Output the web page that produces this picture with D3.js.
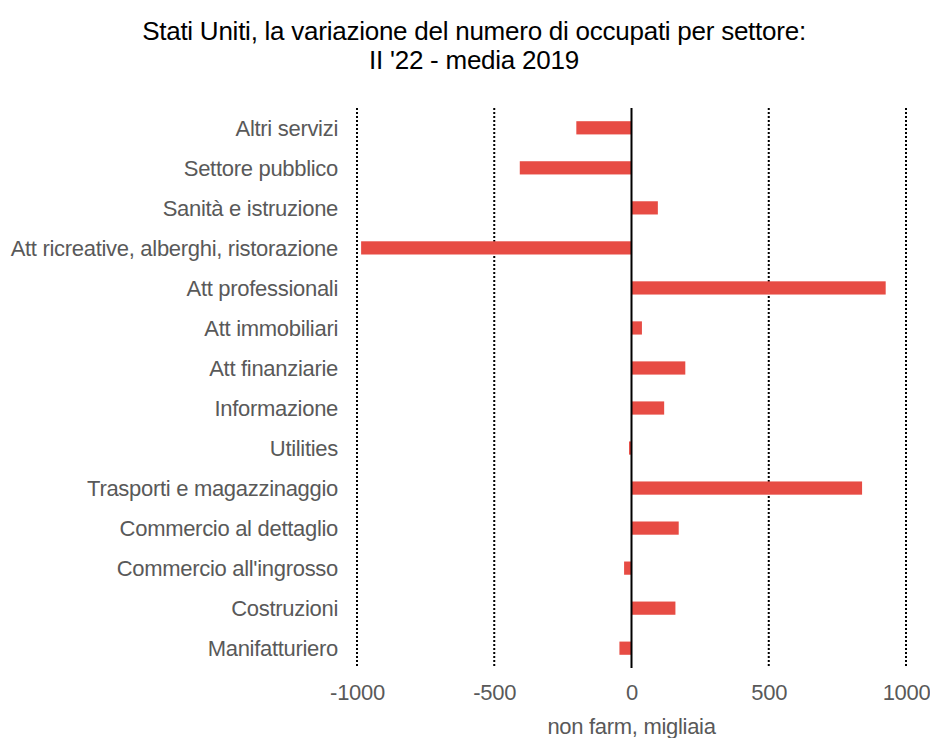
<!DOCTYPE html>
<html>
<head>
<meta charset="utf-8">
<script src="https://cdn.jsdelivr.net/npm/d3@7"></script>
<style>
  body { margin: 0; background: #fff; }
  text { font-family: "Liberation Sans", Arial, sans-serif; }
</style>
</head>
<body>
<svg width="930" height="738"></svg>
<script>
// settori, dall'alto verso il basso
const sectors = [
  "Altri servizi",
  "Settore pubblico",
  "Sanità e istruzione",
  "Att ricreative, alberghi, ristorazione",
  "Att professionali",
  "Att immobiliari",
  "Att finanziarie",
  "Informazione",
  "Utilities",
  "Trasporti e magazzinaggio",
  "Commercio al dettaglio",
  "Commercio all'ingrosso",
  "Costruzioni",
  "Manifatturiero"
];
// variazione occupati, migliaia
const changes = [-201, -407, 96, -985, 926, 38, 196, 119, -9, 840, 172, -27, 160, -44];
const xTicks = [-1000, -500, 0, 500, 1000];

const svg = d3.select("svg");
const mLeft = 357, mRight = 906, mTop = 108, mBottom = 668;

const x = d3.scaleLinear().domain([-1000, 1000]).range([mLeft, mRight]);
const y = d3.scaleBand().domain(sectors).range([mTop, mBottom]).paddingInner(0.67).paddingOuter(0.33);

// title
svg.append("text")
  .attr("x", 474).attr("y", 40)
  .attr("text-anchor", "middle")
  .attr("font-size", 26).attr("letter-spacing", -0.25)
  .attr("fill", "#000")
  .text("Stati Uniti, la variazione del numero di occupati per settore:");
svg.append("text")
  .attr("x", 474).attr("y", 69)
  .attr("text-anchor", "middle")
  .attr("font-size", 26).attr("letter-spacing", -0.25)
  .attr("fill", "#000")
  .text("II '22 - media 2019");

// gridlines
svg.append("g")
  .selectAll("line")
  .data(xTicks.filter(d => d !== 0))
  .enter()
  .append("line")
  .attr("x1", d => x(d)).attr("x2", d => x(d))
  .attr("y1", mTop).attr("y2", mBottom)
  .attr("stroke", "#000")
  .attr("stroke-width", 2)
  .attr("stroke-dasharray", "2,2");

// bars
const data = sectors.map((s, i) => ({ sector: s, value: changes[i] }));
svg.append("g")
  .selectAll("rect")
  .data(data)
  .enter()
  .append("rect")
  .attr("x", d => x(Math.min(0, d.value)))
  .attr("y", d => y(d.sector))
  .attr("width", d => Math.abs(x(d.value) - x(0)))
  .attr("height", y.bandwidth())
  .attr("fill", "#e74c44");

// zero line
svg.append("line")
  .attr("x1", x(0)).attr("x2", x(0))
  .attr("y1", mTop).attr("y2", mBottom)
  .attr("stroke", "#000")
  .attr("stroke-width", 2);

// category labels
svg.append("g")
  .selectAll("text")
  .data(sectors)
  .enter()
  .append("text")
  .attr("x", 338)
  .attr("y", d => y(d) + y.bandwidth() / 2)
  .attr("dy", "0.35em")
  .attr("text-anchor", "end")
  .attr("font-size", 22).attr("letter-spacing", -0.3)
  .attr("fill", "#595959")
  .text(d => d);

// x axis
const xAxis = svg.append("g")
  .attr("transform", `translate(0,${mBottom})`)
  .call(d3.axisBottom(x).tickValues(xTicks).tickSize(0).tickPadding(16).tickFormat(d => String(d)));
xAxis.select(".domain").remove();
xAxis.selectAll("text")
  .attr("font-size", 22).attr("letter-spacing", -0.3)
  .attr("fill", "#595959")
  .style("font-family", "'Liberation Sans', Arial, sans-serif");

svg.append("text")
  .attr("x", x(0)).attr("y", 734)
  .attr("text-anchor", "middle")
  .attr("font-size", 22).attr("letter-spacing", -0.3)
  .attr("fill", "#595959")
  .text("non farm, migliaia");
</script>
</body>
</html>
